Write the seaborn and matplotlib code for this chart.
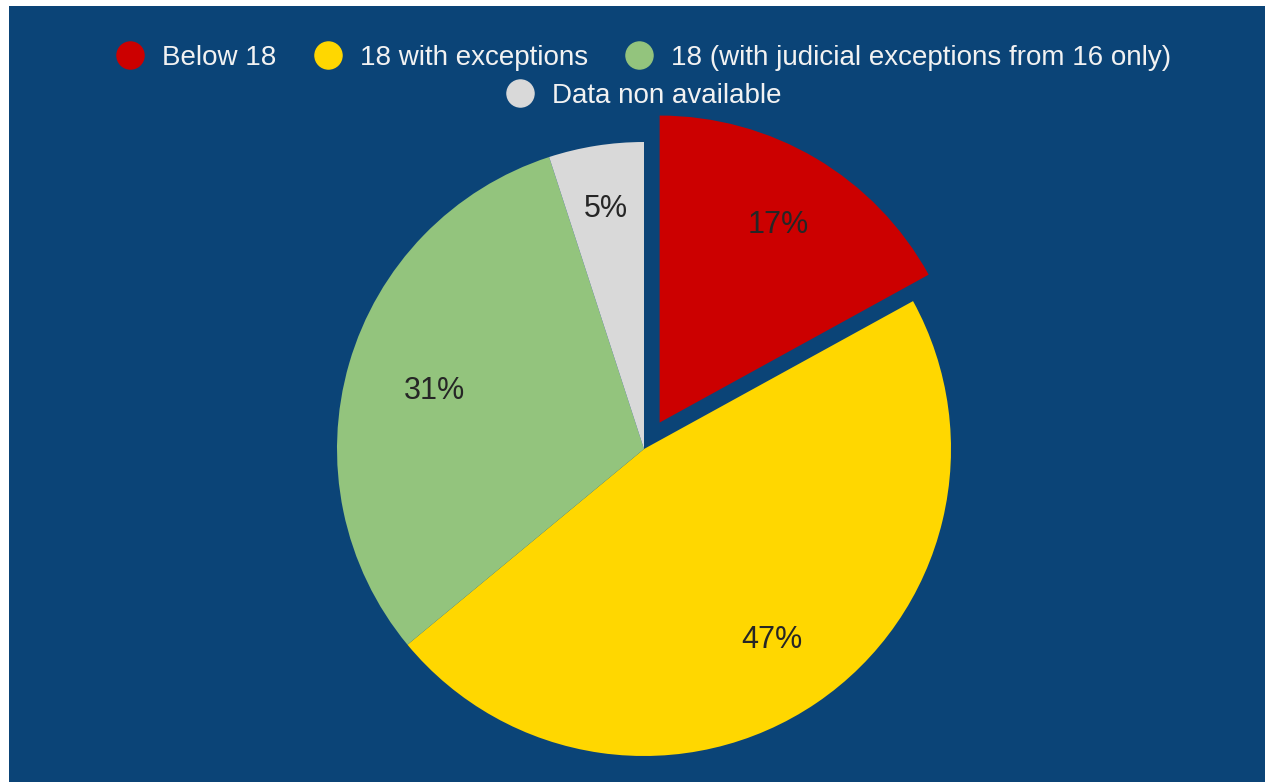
import matplotlib
matplotlib.use("Agg")
import numpy as np
import matplotlib.pyplot as plt
from matplotlib.lines import Line2D
from matplotlib.patches import Rectangle
import seaborn as sns

categories = ["Below 18", "18 with exceptions",
              "18 (with judicial exceptions from 16 only)", "Data non available"]
values = [17, 47, 31, 5]
colors = ["#CC0000", "#FFD700", "#93C47D", "#D9D9D9"]
explode = [0.1, 0, 0, 0]
label_dist = [0.76, 0.74, 0.71, 0.80]

sns.set_style("white")
plt.rcParams['font.family'] = ['Liberation Sans', 'DejaVu Sans']
palette = sns.color_palette(colors)

W, H = 1265, 782
fig = plt.figure(figsize=(W / 100, H / 100), dpi=100, facecolor="white")
bg = "#0B4477"
fig.patches.append(Rectangle((9 / W, 0), 1 - 9 / W, 1 - 6 / H, transform=fig.transFigure,
                             facecolor=bg, edgecolor="none", zorder=-10))

cx, cy, R = 644, 449, 307
lim = 1.1
size = 2 * lim * R
ax = fig.add_axes([(cx - size / 2) / W, (H - cy - size / 2) / H, size / W, size / H])
ax.set_facecolor("none")
wedges, texts, autotexts = ax.pie(values, colors=palette, explode=explode, startangle=90,
                                  counterclock=False, autopct="%d%%", pctdistance=0.75,
                                  wedgeprops=dict(linewidth=0),
                                  textprops=dict(fontsize=22, color="#262626"))
for w, t, d, e in zip(wedges, autotexts, label_dist, explode):
    ang = np.deg2rad((w.theta1 + w.theta2) / 2)
    t.set_position(((d + e) * np.cos(ang), (d + e) * np.sin(ang) - 0.01))
ax.set_xlim(-lim, lim)
ax.set_ylim(-lim, lim)
ax.set_aspect("equal")
ax.axis("off")

def handle(c):
    return Line2D([], [], marker="o", linestyle="none", markersize=19.5,
                  markerfacecolor=c, markeredgecolor=c)

common = dict(loc="center", frameon=False, fontsize=20, labelcolor="#F2F2F2",
              handlelength=1.0, handletextpad=0.65, columnspacing=1.35, borderpad=0)
fig.legend([handle(c) for c in colors[:3]], categories[:3], ncol=3,
           bbox_to_anchor=(cx / W, 1 - 58 / H), **common)
fig.legend([handle(colors[3])], categories[3:], ncol=1,
           bbox_to_anchor=(cx / W, 1 - 96 / H), **common)

fig.savefig("out.png", dpi=100, facecolor=fig.get_facecolor())
